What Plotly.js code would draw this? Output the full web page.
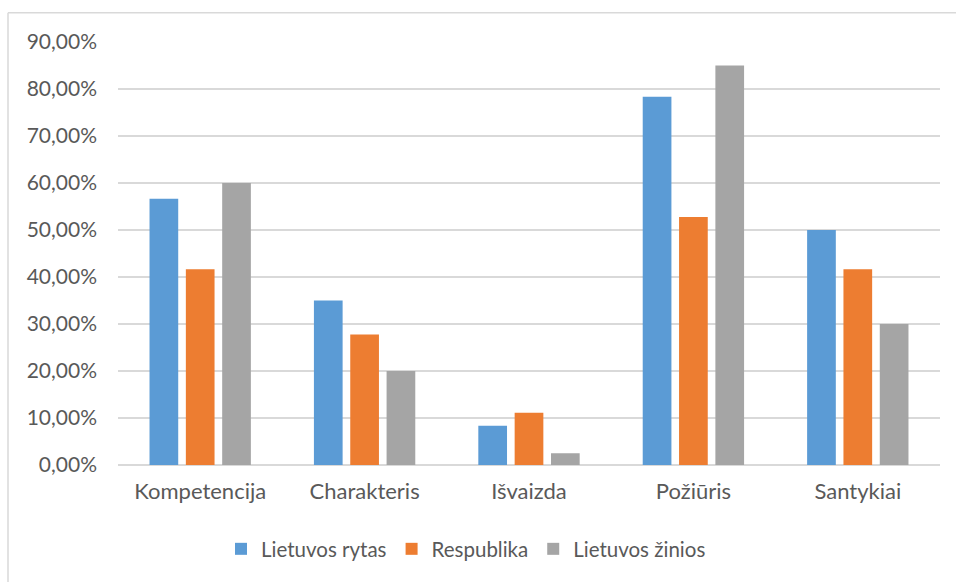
<!DOCTYPE html>
<html>
<head>
<meta charset="utf-8">
<script src="https://cdn.plot.ly/plotly-3.0.1.min.js"></script>
<style>
  html, body { margin: 0; padding: 0; background: #ffffff; }
  #chart { width: 956px; height: 582px; }
</style>
</head>
<body>
<div id="chart"></div>
<script>
// Categories and the three newspaper series (shares, 0..1)
const categories = ["Kompetencija", "Charakteris", "Išvaizda", "Požiūris", "Santykiai"];
const seriesNames = ["Lietuvos rytas", "Respublika", "Lietuvos žinios"];
const lietuvosRytas = [0.5667, 0.35, 0.0833, 0.7833, 0.50];
const respublika = [0.4167, 0.2778, 0.1111, 0.5278, 0.4167];
const lietuvosZinios = [0.60, 0.20, 0.025, 0.85, 0.30];
const yTicks = [0, 0.1, 0.2, 0.3, 0.4, 0.5, 0.6, 0.7, 0.8, 0.9];

const colors = ["#5B9BD5", "#ED7D31", "#A5A5A5"];
const values = [lietuvosRytas, respublika, lietuvosZinios];

const traces = values.map((v, i) => ({
  type: "bar",
  name: seriesNames[i],
  x: categories,
  y: v,
  marker: { color: colors[i], line: { width: 0 } },
  hoverinfo: "x+y+name"
}));

const family = "Lato, 'Open Sans', sans-serif";
const grey = "#595959";

// plot area: 118..940 px wide, 42..465 px tall
const W = 956, H = 582, L = 118, R = 16, T = 42, B = 117;
const pw = W - L - R, ph = H - T - B;

const layout = {
  width: W,
  height: H,
  margin: { l: L, r: R, t: T, b: B, pad: 0 },
  paper_bgcolor: "#ffffff",
  plot_bgcolor: "#ffffff",
  separators: ", ",
  barmode: "group",
  bargap: 0.337,
  bargroupgap: 0.21,
  showlegend: true,
  font: { family: family, size: 21, color: grey },
  xaxis: {
    type: "category",
    showgrid: false,
    showline: false,
    zeroline: false,
    ticks: "",
    tickfont: { family: family, size: 22, color: grey },
    ticklabelstandoff: 11
  },
  yaxis: {
    range: [0, 0.9],
    tickvals: yTicks,
    tickformat: ".2%",
    showgrid: true,
    gridcolor: "#D9D9D9",
    gridwidth: 1.5,
    zeroline: true,
    zerolinecolor: "#D9D9D9",
    zerolinewidth: 1.5,
    showline: false,
    ticks: "",
    tickfont: { family: family, size: 21, color: grey },
    ticklabelstandoff: 20
  },
  legend: {
    orientation: "h",
    x: (466 - L) / pw,
    xanchor: "center",
    y: (T + ph - 549) / ph,
    yanchor: "middle",
    font: { family: family, size: 20.5, color: grey },
    itemwidth: 30,
    traceorder: "normal",
    bgcolor: "rgba(0,0,0,0)"
  },
  shapes: [
    // chart frame: left and top edges
    {
      type: "line", xref: "paper", yref: "paper",
      x0: (8 - L) / pw, x1: (8 - L) / pw,
      y0: 1 + (T - 12.7) / ph, y1: (T + ph - H - 2) / ph,
      line: { color: "#D9D9D9", width: 1.5 }
    },
    {
      type: "line", xref: "paper", yref: "paper",
      x0: (8 - L) / pw, x1: (W + 2 - L) / pw,
      y0: 1 + (T - 12.7) / ph, y1: 1 + (T - 12.7) / ph,
      line: { color: "#D9D9D9", width: 1.5 }
    }
  ]
};

Plotly.newPlot("chart", traces, layout, { displayModeBar: false, staticPlot: true });
</script>
</body>
</html>
